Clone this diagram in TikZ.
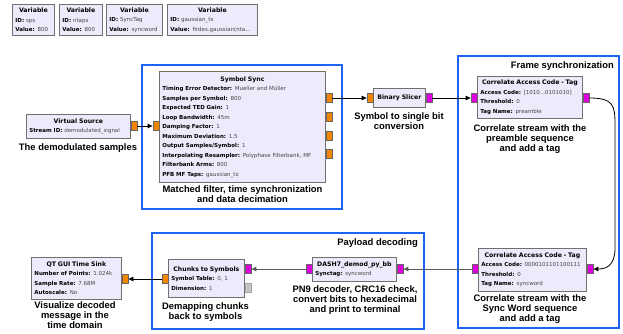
\documentclass[tikz,border=0pt]{standalone}
\usepackage{fontspec}
\setmainfont{Liberation Sans}
\newfontfamily\blockfont{DejaVu Sans}
\usetikzlibrary{arrows.meta}

\definecolor{blkfill}{HTML}{EEEAFB}
\definecolor{blkdraw}{HTML}{707070}
\definecolor{valgray}{HTML}{444444}
\definecolor{portorange}{HTML}{F28500}
\definecolor{portmagenta}{HTML}{DD00DD}
\definecolor{portgrey}{HTML}{C4C4C4}
\definecolor{grpblue}{HTML}{1E64F0}

\newcommand{\blktitle}[1]{\makebox[\linewidth]{\fontsize{6.2}{9.5}\selectfont\bfseries #1}}
\newcommand{\fld}[2]{\mbox{\textbf{#1:} \textcolor{valgray}{#2}}}

\tikzset{
  blk/.style={draw=blkdraw, line width=0.8pt, fill=blkfill, anchor=north west,
    inner xsep=3pt, inner ysep=1pt, align=left,
    font=\blockfont\fontsize{5.5}{9.5}\selectfont},
  oport/.style={draw=black!60, fill=portorange, minimum width=6pt, minimum height=9pt, inner sep=0pt},
  mport/.style={draw=black!60, fill=portmagenta, minimum width=6pt, minimum height=9pt, inner sep=0pt},
  gport/.style={draw=black!35, fill=portgrey, minimum width=6pt, minimum height=9pt, inner sep=0pt},
  grp/.style={draw=grpblue, line width=2pt},
  captxt/.style={anchor=north, inner sep=0pt, align=center, font=\bfseries\fontsize{9.4}{9.8}\selectfont},
  conn/.style={-{Triangle[length=5pt,width=4.5pt]}, line width=0.8pt},
  msg/.style={-{Triangle[length=5pt,width=4.5pt]}, line width=1pt, draw=black!65}
}

\begin{document}
\begin{tikzpicture}[x=1pt,y=-1pt]
\useasboundingbox (0,0) rectangle (623,333);

% variables
\node[blk, text width=36pt, minimum height=31pt] (varSps) at (12,4)
  {\blktitle{Variable}\\\fld{ID}{sps}\\\fld{Value}{800}};
\node[blk, text width=37pt, minimum height=31pt] (varNtaps) at (59,4)
  {\blktitle{Variable}\\\fld{ID}{ntaps}\\\fld{Value}{800}};
\node[blk, text width=50pt, minimum height=31pt] (varSync) at (106,4)
  {\blktitle{Variable}\\\fld{ID}{SyncTag}\\\fld{Value}{syncword}};
\node[blk, text width=84pt, minimum height=31pt] (varGauss) at (167,4)
  {\blktitle{Variable}\\\fld{ID}{gaussian\_tx}\\\fld{Value}{firdes.gaussian(nta...}};

% groups
\draw[grp] (142,65) rectangle (342,209);
\draw[grp] (458,56) rectangle (619,328);
\draw[grp] (152,233) rectangle (424,329);
\node[captxt, anchor=north east] (ttlFrame) at (614,61.5) {Frame synchronization};
\node[captxt, anchor=north east] (ttlPayload) at (418,238.5) {Payload decoding};

% blocks
\node[blk, text width=98pt, minimum height=24pt] (vsrc) at (26,114)
  {\blktitle{Virtual Source}\\\fld{Stream ID}{demodulated\_signal}};
\node[blk, text width=160pt, minimum height=111pt] (ssync) at (159,71)
  {\blktitle{Symbol Sync}\\
   \fld{Timing Error Detector}{Mueller and Müller}\\
   \fld{Samples per Symbol}{800}\\
   \fld{Expected TED Gain}{1}\\
   \fld{Loop Bandwidth}{45m}\\
   \fld{Damping Factor}{1}\\
   \fld{Maximum Deviation}{1.5}\\
   \fld{Output Samples/Symbol}{1}\\
   \fld{Interpolating Resampler}{Polyphase Filterbank, MF}\\
   \fld{Filterbank Arms}{800}\\
   \fld{PFB MF Taps}{gaussian\_tx}};
\node[blk, text width=46pt, minimum height=19pt] (slicer) at (373,88)
  {\blktitle{Binary Slicer}};
\node[blk, text width=99pt, minimum height=42pt] (corrPre) at (477,76)
  {\blktitle{Correlate Access Code - Tag}\\
   \fld{Access Code}{[1010...0101010]}\\
   \fld{Threshold}{0}\\
   \fld{Tag Name}{preamble}};
\node[blk, text width=102pt, minimum height=43pt] (corrSync) at (478,248)
  {\blktitle{Correlate Access Code - Tag}\\
   \fld{Access Code}{0000101101100111}\\
   \fld{Threshold}{0}\\
   \fld{Tag Name}{syncword}};
\node[blk, text width=78pt, minimum height=24pt] (dash) at (312,257)
  {\blktitle{DASH7\_demod\_py\_bb}\\\fld{Synctag}{syncword}};
\node[blk, text width=70pt, minimum height=38pt] (chunks) at (168,259)
  {\blktitle{Chunks to Symbols}\\\fld{Symbol Table}{0, 1}\\\fld{Dimension}{1}};
\node[blk, text width=84pt, minimum height=42pt] (qtsink) at (31,257)
  {\blktitle{QT GUI Time Sink}\\\fld{Number of Points}{1.024k}\\\fld{Sample Rate}{7.68M}\\\fld{Autoscale}{No}};

% ports
\node[oport, anchor=west] (vsrcOut) at (131,126) {};
\node[oport, anchor=east] (ssyncIn) at (159,126) {};
\foreach \y [count=\i] in {98,117,136,154}{
  \node[oport, anchor=west] (ssyncOut\i) at (326,\y) {};
}
\node[oport, anchor=east] (slicerIn) at (373,98) {};
\node[mport, anchor=west] (slicerOut) at (426,98) {};
\node[mport, anchor=east] (corrPreIn) at (477,98) {};
\node[mport, anchor=west] (corrPreOut) at (583,98) {};
\node[mport, anchor=west] (corrSyncIn) at (587,269) {};
\node[mport, anchor=east] (corrSyncOut) at (478,269) {};
\node[mport, anchor=west] (dashIn) at (397,269) {};
\node[mport, anchor=east] (dashOut) at (312,269) {};
\node[mport, anchor=west] (chunksIn) at (245,269) {};
\node[gport, anchor=west] (chunksAux) at (245,288) {};
\node[oport, anchor=east] (chunksOut) at (168,279) {};
\node[oport, anchor=west] (qtsinkIn) at (122,279) {};

% connections
\draw[conn] (vsrcOut) -- (ssyncIn);
\draw[conn] (ssyncOut1) -- (slicerIn);
\draw[conn] (slicerOut) -- (corrPreIn);
\draw[conn] (corrPreOut.east) .. controls (614,98) and (615,106) .. (615,125)
  -- (615,248) .. controls (615,266) and (606,269) .. (corrSyncIn.east);
\draw[msg] (corrSyncOut) -- (dashIn);
\draw[msg] (dashOut) -- (chunksIn);
\draw[conn] (chunksOut) -- (qtsinkIn);

% captions
\node[captxt] (capVsrc) at (78,143.5) {The demodulated samples};
\node[captxt] (capSsync) at (242.5,185.5) {Matched filter, time synchronization\\and data decimation};
\node[captxt] (capSlicer) at (399,112.5) {Symbol to single bit\\conversion};
\node[captxt] (capCorrPre) at (530,124.5) {Correlate stream with the\\preamble sequence\\and add a tag};
\node[captxt] (capCorrSync) at (530,294.5) {Correlate stream with the\\Sync Word sequence\\and add a tag};
\node[captxt] (capDash) at (355,285.5) {PN9 decoder, CRC16 check,\\convert bits to hexadecimal\\and print to terminal};
\node[captxt] (capChunks) at (205.5,302.5) {Demapping chunks\\back to symbols};
\node[captxt] (capQt) at (75,301.5) {Visualize decoded\\message in the\\time domain};
\end{tikzpicture}
\end{document}
